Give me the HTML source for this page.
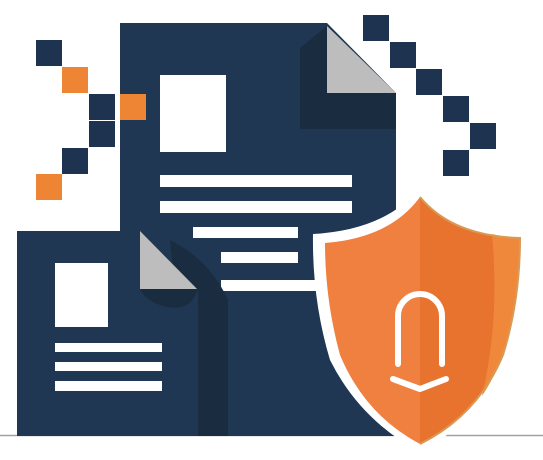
<!DOCTYPE html>
<html><head><style>
html,body{margin:0;padding:0;background:#fff;}
svg{display:block;}
</style></head><body>
<svg width="543" height="460" viewBox="0 0 543 460" xmlns="http://www.w3.org/2000/svg">
<rect width="543" height="460" fill="#fff"/>
<line x1="0" y1="435.5" x2="543" y2="435.5" stroke="#9aa3ad" stroke-width="1.5"/>
<g>
<rect x="36" y="40" width="26" height="26" fill="#1e3350"/>
<rect x="62" y="67" width="26" height="26" fill="#ee8535"/>
<rect x="89" y="94" width="26" height="26" fill="#1e3350"/>
<rect x="89" y="121" width="26" height="26" fill="#1e3350"/>
<rect x="62" y="148" width="26" height="26" fill="#1e3350"/>
<rect x="36" y="174" width="26" height="26" fill="#ee8535"/>
</g>
<g fill="#1e3350">
<rect x="363" y="15" width="26" height="26"/>
<rect x="390" y="42" width="26" height="26"/>
<rect x="416" y="69" width="26" height="26"/>
<rect x="443" y="96" width="26" height="26"/>
<rect x="470" y="123" width="26" height="26"/>
<rect x="443" y="150" width="26" height="26"/>
</g>
<path d="M120 23 H327 L396 93 V436 H120 Z" fill="#1f3753"/>
<path d="M300 48 L327 26 V93 H396 V129 H300 Z" fill="#1a2c40"/>
<polygon points="327,26 396,93 327,93" fill="#bdbdbd"/>
<rect x="120" y="94" width="26" height="26" fill="#ee8535"/>
<rect x="160" y="75" width="66" height="77" fill="#fff"/>
<rect x="160" y="175" width="192" height="12" fill="#fff"/>
<rect x="160" y="201" width="192" height="12" fill="#fff"/>
<rect x="193" y="227" width="105" height="11" fill="#fff"/>
<rect x="221" y="252" width="77" height="11" fill="#fff"/>
<rect x="221" y="280" width="110" height="11" fill="#fff"/>
<path d="M170 240 Q210 260 228 300 V436 H190 Z" fill="#1a2c40"/>
<path d="M17 231 H140 L198 289 V436 H17 Z" fill="#1f3753"/>
<path d="M140 289 H198 Q190 315 160 305 Q145 300 140 289 Z" fill="#1a2c40"/>
<polygon points="140,231 197,289 140,289" fill="#bdbdbd"/>
<rect x="55" y="263" width="53" height="64" fill="#fff"/>
<rect x="55" y="343" width="107" height="9" fill="#fff"/>
<rect x="55" y="362" width="107" height="9" fill="#fff"/>
<rect x="55" y="381" width="107" height="10" fill="#fff"/>
<path d="M420 188 Q385 230 313 234 Q312 300 330 360 Q360 420 420 452 Q480 420 505 360 Q526 300 527 232 Q455 230 420 188 Z" fill="#fff"/>
<path d="M420 197 Q390 238 325 243 Q325 300 340 355 Q365 415 420 444 Z" fill="#ef8040"/>
<path d="M420 197 Q452 236 520 238 Q520 300 503 355 Q478 415 420 444 Z" fill="#e8732f"/>
<path d="M492 234 Q508 238 520 238 Q520 300 503 355 Q494 378 482 396 Q500 320 492 234 Z" fill="#f0883c"/>
<path d="M420 197 Q452 236 520 238 Q520 300 503 355 Q478 415 420 444" fill="none" stroke="#d89a55" stroke-width="2"/>
<path d="M398 364 V316 A22 22 0 0 1 442 316 V364" fill="none" stroke="#fff" stroke-width="6" stroke-linecap="round"/>
<path d="M393 379 L420 389 L446 379" fill="none" stroke="#fff" stroke-width="6" stroke-linecap="round" stroke-linejoin="round"/>
</svg>
</body></html>
